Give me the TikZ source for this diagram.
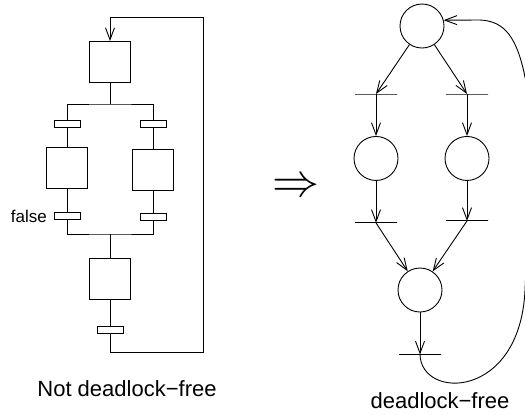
\documentclass[tikz,border=0pt]{standalone}
\usepackage{fontspec}
\setmainfont{Liberation Sans}
\usepackage{graphicx}
\usepackage{tikz}
\usetikzlibrary{positioning,arrows.meta}
\tikzset{
  step-box/.style={draw,line width=0.9bp,minimum width=41bp,minimum height=41bp,
    inner sep=0pt},
  step-bar/.style={draw,line width=0.9bp,minimum width=26bp,minimum height=7bp,
    inner sep=0pt,outer sep=0pt},
  place/.style={draw,line width=0.9bp,circle,minimum size=44bp,inner sep=0pt},
  % transition of the net: a bar with no height
  trans-bar/.style={draw,line width=0.9bp,minimum width=42bp,minimum height=0pt,
    inner sep=0pt,outer sep=0pt},
  link/.style={line width=0.9bp},
  arrow/.style={-{Straight Barb[length=12bp,width=9bp]},line width=0.9bp},
  caption/.style={font=\fontsize{22bp}{26bp}\selectfont,inner sep=0pt},
}

\begin{document}
\begin{tikzpicture}[x=1bp,y=-1bp]
  \useasboundingbox (0,0) rectangle (525,414);
  % SFC on the left
  \node[step-box] (s0) at (110,62) {};
  \node[step-bar] (t1) at (67,123.5) {};
  \node[step-bar] (t2) at (153,123.5) {};
  \node[step-box,below=20bp of t1] (s1) {};
  \node[step-box,below=22bp of t2] (s2) {};
  \node[step-bar,below=24bp of s1] (t3) {};
  \node[step-bar,below=23bp of s2] (t4) {};
  \node[step-box] (s3) at (110,279) {};
  \node[step-bar,below=26bp of s3] (t5) {};
  \node[left=7bp of t3,inner sep=0pt,font=\fontsize{17bp}{20bp}\selectfont] (lfalse) {false};
  \coordinate (fork) at (110,104);
  \coordinate (join) at (110,234);
  \coordinate (loopA) at (203,352);
  \coordinate (loopB) at (203,17);
  \draw[link] (s0) -- (fork);
  \draw[link] (t1.north) |- (fork) -| (t2.north);
  \draw[link] (t1) -- (s1);
  \draw[link] (t2) -- (s2);
  \draw[link] (s1) -- (t3);
  \draw[link] (s2) -- (t4);
  \draw[link] (t3.south) |- (join) -| (t4.south);
  \draw[link] (join) -- (s3);
  \draw[link] (s3) -- (t5);
  \draw[arrow] (t5.south) |- (loopA) -- (loopB) -| (s0.north);
  \node[caption] (cleft) at (127,389) {Not deadlock−free};

  \node[inner sep=0pt] (impl) at (296,188) {\resizebox{47bp}{!}{$\Rightarrow$}};

  % Petri net on the right
  \node[place] (p0) at (422,26) {};
  \node[trans-bar] (tr1) at (376,94) {};
  \node[trans-bar] (tr2) at (467,94) {};
  \node[place,below=42bp of tr1] (p1) {};
  \node[place,below=42bp of tr2] (p2) {};
  \node[trans-bar,below=42bp of p1] (tr3) {};
  \node[trans-bar,below=40bp of p2] (tr4) {};
  \node[place] (p3) at (420,290) {};
  \node[trans-bar,below=42bp of p3] (tr5) {};
  \draw[arrow] (p0) -- (tr1.center);
  \draw[arrow] (p0) -- (tr2.center);
  \draw[arrow] (tr1.center) -- (p1);
  \draw[arrow] (tr2.center) -- (p2);
  \draw[arrow] (p1) -- (tr3.center);
  \draw[arrow] (p2) -- (tr4.center);
  \draw[arrow] (tr3.center) -- (p3);
  \draw[arrow] (tr4.center) -- (p3);
  \draw[arrow] (p3) -- (tr5.center);
  \draw[arrow] (tr5.center) .. controls (421,400) and (520,400) .. (525,290)
    .. controls (530,180) and (535,120) .. (525,77)
    .. controls (517,38) and (505,21) .. (480,20) -- (p0.15);
  \node[caption] (cright) at (440,401) {deadlock−free};
\end{tikzpicture}
\end{document}
